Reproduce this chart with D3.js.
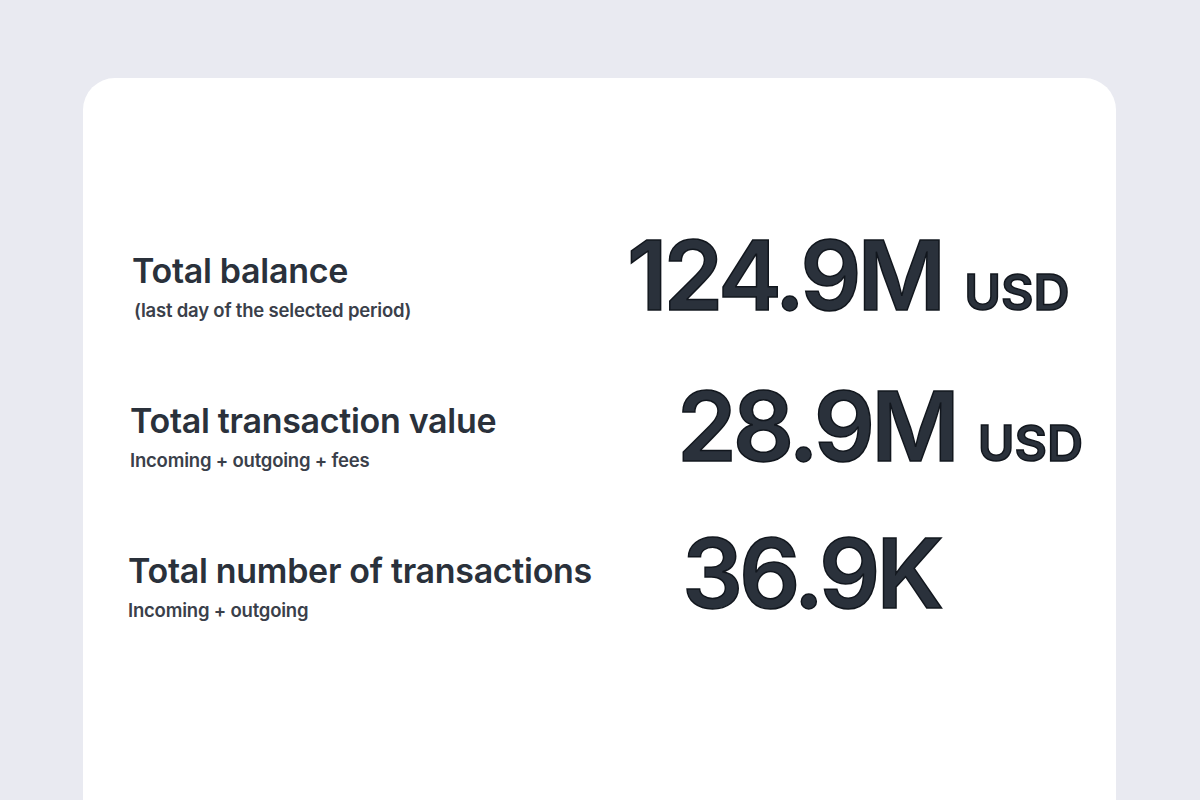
<!DOCTYPE html>
<html>
<head>
<meta charset="utf-8">
<script src="https://cdn.jsdelivr.net/npm/d3@7"></script>
<style>
  html, body { margin: 0; padding: 0; background: #e9eaf1; }
  svg { display: block; font-family: Inter, "Noto Sans", sans-serif; }
</style>
</head>
<body>
<svg id="chart" width="1200" height="800"></svg>
<script>
// KPI rows
const labels = ['Total balance', 'Total transaction value', 'Total number of transactions'];
const subtitles = ['(last day of the selected period)', 'Incoming + outgoing + fees', 'Incoming + outgoing'];
const values = ['124.9M', '28.9M', '36.9K'];
const units = ['USD', 'USD', ''];

const INK = '#2a313b';
const svg = d3.select('#chart');

// card
svg.append('rect')
  .attr('x', 83).attr('y', 78)
  .attr('width', 1033).attr('height', 780)
  .attr('rx', 32).attr('fill', '#ffffff');

const rowY = d3.scalePoint().domain(d3.range(labels.length)).range([283, 583]);
const labelX = [132, 130, 128];
const valueX = [627, 677, 682];
const valueDy = [27, 28, 25];

const rows = svg.selectAll('g.row')
  .data(labels.map((l, i) => ({ label: l, sub: subtitles[i], value: values[i], unit: units[i], i })))
  .join('g').attr('class', 'row');

rows.append('text')
  .attr('x', d => labelX[d.i]).attr('y', d => rowY(d.i))
  .attr('font-size', 34).attr('font-weight', 600)
  .attr('letter-spacing', -0.3).attr('fill', INK)
  .text(d => d.label);

rows.append('text')
  .attr('x', d => labelX[d.i] + (d.i === 0 ? 2 : 0)).attr('y', d => rowY(d.i) + 34)
  .attr('font-size', 18.5).attr('font-weight', 600)
  .attr('letter-spacing', -0.2).attr('fill', '#3a404a')
  .text(d => d.sub);

const valueText = rows.append('text')
  .attr('x', d => valueX[d.i]).attr('y', d => rowY(d.i) + valueDy[d.i])
  .attr('fill', INK).attr('stroke', '#11161d').attr('stroke-width', 1.5);

valueText.append('tspan')
  .attr('font-size', 96).attr('font-weight', 600)
  .attr('letter-spacing', -4)
  .text(d => d.value);

valueText.append('tspan')
  .attr('dx', 22)
  .attr('font-size', 50).attr('font-weight', 600)
  .attr('letter-spacing', 0)
  .text(d => d.unit);
</script>
</body>
</html>
